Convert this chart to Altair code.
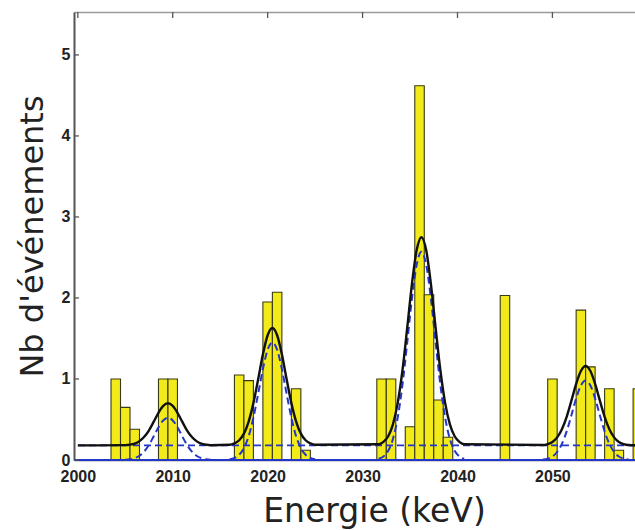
import altair as alt
import pandas as pd

# ---- histogram (1 keV bins, centres) ----
bin_centers = [2004, 2005, 2006, 2009, 2010, 2017, 2018, 2020, 2021, 2023, 2024,
               2032, 2033, 2035, 2036, 2037, 2038, 2039, 2045, 2050, 2053, 2054,
               2056, 2057, 2059]
counts = [1.0, 0.65, 0.38, 1.0, 1.0, 1.05, 0.98, 1.95, 2.07, 0.88, 0.12,
          1.0, 1.0, 0.41, 4.62, 2.04, 0.74, 0.28, 2.03, 1.0, 1.85, 1.15,
          0.88, 0.12, 0.88]
bin_width = 1.0

# ---- fit: flat background level ----
baseline = 0.18

# ---- fit: total (black) curve ----
fit_x = [2000.0,
         2005.0, 2005.5, 2006.0, 2006.5, 2007.0, 2007.5, 2008.0, 2008.5, 2009.0, 2009.5,
         2010.0, 2010.5, 2011.0, 2011.5, 2012.0, 2012.5, 2013.0, 2013.5, 2014.0,
         2016.0, 2016.5, 2017.0, 2017.5, 2018.0, 2018.5, 2019.0, 2019.5, 2020.0, 2020.5,
         2021.0, 2021.5, 2022.0, 2022.5, 2023.0, 2023.5, 2024.0, 2024.5, 2025.0,
         2031.7, 2032.2, 2032.7, 2033.2, 2033.7, 2034.2, 2034.7, 2035.2, 2035.7, 2036.2,
         2036.7, 2037.2, 2037.7, 2038.2, 2038.7, 2039.2, 2039.7, 2040.2, 2040.7,
         2049.0, 2049.5, 2050.0, 2050.5, 2051.0, 2051.5, 2052.0, 2052.5, 2053.0, 2053.5,
         2054.0, 2054.5, 2055.0, 2055.5, 2056.0, 2056.5, 2057.0, 2057.5, 2058.0,
         2060.0]
fit_y = [0.18,
         0.183, 0.189, 0.203, 0.233, 0.286, 0.367, 0.473, 0.583, 0.668, 0.70,
         0.668, 0.583, 0.473, 0.367, 0.286, 0.233, 0.203, 0.189, 0.183,
         0.188, 0.205, 0.244, 0.326, 0.474, 0.702, 0.996, 1.304, 1.540, 1.63,
         1.540, 1.304, 0.996, 0.702, 0.474, 0.326, 0.244, 0.205, 0.188,
         0.195, 0.224, 0.293, 0.440, 0.702, 1.105, 1.627, 2.172, 2.591, 2.75,
         2.591, 2.172, 1.627, 1.105, 0.702, 0.440, 0.293, 0.224, 0.195,
         0.186, 0.197, 0.223, 0.279, 0.379, 0.533, 0.732, 0.940, 1.099, 1.16,
         1.099, 0.940, 0.732, 0.533, 0.379, 0.279, 0.223, 0.197, 0.186,
         0.18]

# ---- fit: signal-only components (blue dashed) ----
peakA_x = [2005.0, 2005.5, 2006.0, 2006.5, 2007.0, 2007.5, 2008.0, 2008.5, 2009.0, 2009.5,
           2010.0, 2010.5, 2011.0, 2011.5, 2012.0, 2012.5, 2013.0, 2013.5, 2014.0]
peakA_y = [0.003, 0.009, 0.023, 0.053, 0.106, 0.187, 0.293, 0.403, 0.488, 0.52,
           0.488, 0.403, 0.293, 0.187, 0.106, 0.053, 0.023, 0.009, 0.003]
peakB_x = [2016.0, 2016.5, 2017.0, 2017.5, 2018.0, 2018.5, 2019.0, 2019.5, 2020.0, 2020.5,
           2021.0, 2021.5, 2022.0, 2022.5, 2023.0, 2023.5, 2024.0, 2024.5, 2025.0]
peakB_y = [0.008, 0.025, 0.064, 0.146, 0.294, 0.522, 0.816, 1.124, 1.360, 1.45,
           1.360, 1.124, 0.816, 0.522, 0.294, 0.146, 0.064, 0.025, 0.008]
peakC_x = [2031.7, 2032.2, 2032.7, 2033.2, 2033.7, 2034.2, 2034.7, 2035.2, 2035.7, 2036.2,
           2036.7, 2037.2, 2037.7, 2038.2, 2038.7, 2039.2, 2039.7, 2040.2, 2040.7]
peakC_y = [0.015, 0.044, 0.113, 0.260, 0.522, 0.925, 1.447, 1.992, 2.411, 2.57,
           2.411, 1.992, 1.447, 0.925, 0.522, 0.260, 0.113, 0.044, 0.015]
peakD_x = [2049.0, 2049.5, 2050.0, 2050.5, 2051.0, 2051.5, 2052.0, 2052.5, 2053.0, 2053.5,
           2054.0, 2054.5, 2055.0, 2055.5, 2056.0, 2056.5, 2057.0, 2057.5, 2058.0]
peakD_y = [0.006, 0.017, 0.043, 0.099, 0.199, 0.353, 0.552, 0.760, 0.919, 0.98,
           0.919, 0.760, 0.552, 0.353, 0.199, 0.099, 0.043, 0.017, 0.006]

x_ticks = [2000, 2010, 2020, 2030, 2040, 2050]
top_ticks = [2000, 2010, 2020, 2030, 2040, 2050]
y_ticks = [0, 1, 2, 3, 4, 5]
x_domain = [1999.6, 2058.7]
y_domain = [0, 5.53]

# ---- tables ----
bars = pd.DataFrame({
    "lo": [c - bin_width / 2 for c in bin_centers],
    "hi": [c + bin_width / 2 for c in bin_centers],
    "n": counts,
    "base": [0.0] * len(counts),
})
fit = pd.DataFrame({"x": fit_x, "y": fit_y})
comp_rows = []
for name, xs_, ys_ in [("A", peakA_x, peakA_y), ("B", peakB_x, peakB_y),
                       ("C", peakC_x, peakC_y), ("D", peakD_x, peakD_y)]:
    for xv, yv in zip(xs_, ys_):
        comp_rows.append({"peak": name, "x": xv, "y": yv})
comp = pd.DataFrame(comp_rows)
zero_df = pd.DataFrame({"y": [0.0]})
bkg_df = pd.DataFrame({"y": [baseline]})
xt = pd.DataFrame({"t": top_ticks})
yt = pd.DataFrame({"t": y_ticks})

xs = alt.Scale(domain=x_domain, nice=False, zero=False)
ys = alt.Scale(domain=y_domain, nice=False, zero=False)

TXT = "#222222"
BLUE = "#2336c8"

x_axis = alt.Axis(values=x_ticks, format="d", grid=False,
                  labelFont="Liberation Sans", labelFontWeight="bold",
                  labelFontSize=16, labelColor=TXT, labelPadding=8,
                  labelFlush=False,
                  ticks=False, tickSize=0, domainColor="#555555", domainWidth=1.5,
                  title="Energie (keV)", titleFont="DejaVu Sans", titleFontSize=33,
                  titleFontWeight="normal", titleColor=TXT,
                  titleX=300, titleY=61, titleAlign="center",
                  titleBaseline="alphabetic")
y_axis = alt.Axis(values=y_ticks, format="d", grid=False,
                  labelFont="Liberation Sans", labelFontWeight="bold",
                  labelFontSize=16, labelColor=TXT, labelPadding=4,
                  ticks=False, tickSize=0, domainColor="#555555", domainWidth=2,
                  title="Nb d'événements", titleFont="DejaVu Sans", titleFontSize=32,
                  titleFontWeight="normal", titleColor=TXT, titleAngle=270,
                  titleX=-32, titleY=224, titleAlign="center",
                  titleBaseline="alphabetic")

bar_layer = alt.Chart(bars).mark_rect(
    fill="#F2EA1A", stroke="#3a3a12", strokeWidth=1.1, clip=True
).encode(
    x=alt.X("lo:Q", scale=xs, axis=x_axis),
    x2="hi:Q",
    y=alt.Y("n:Q", scale=ys, axis=y_axis),
    y2="base:Q",
)

zero_layer = alt.Chart(zero_df).mark_rule(
    color=BLUE, strokeWidth=1.8
).encode(y=alt.Y("y:Q", scale=ys, axis=None))

bkg_layer = alt.Chart(bkg_df).mark_rule(
    color=BLUE, strokeWidth=1.8, strokeDash=[7, 4]
).encode(y=alt.Y("y:Q", scale=ys, axis=None))

comp_layer = alt.Chart(comp).mark_line(
    color=BLUE, strokeWidth=2.0, strokeDash=[7, 4], interpolate="monotone", clip=True
).encode(
    x=alt.X("x:Q", scale=xs, axis=None),
    y=alt.Y("y:Q", scale=ys, axis=None),
    detail="peak:N",
)

fit_layer = alt.Chart(fit).mark_line(
    color="#111111", strokeWidth=2.4, interpolate="monotone", clip=True
).encode(
    x=alt.X("x:Q", scale=xs, axis=None),
    y=alt.Y("y:Q", scale=ys, axis=None),
)

top_tick_layer = alt.Chart(xt).mark_rule(color="#555555", strokeWidth=1.3).encode(
    x=alt.X("t:Q", scale=xs,
            axis=alt.Axis(orient="top", labels=False, ticks=False, grid=False,
                          domainColor="#9a9a9a", domainWidth=1.5, title=None)),
    y=alt.value(0),
    y2=alt.value(6),
)

left_tick_layer = alt.Chart(yt).mark_rule(color="#555555", strokeWidth=1.3).encode(
    y=alt.Y("t:Q", scale=ys, axis=None),
    x=alt.value(0),
    x2=alt.value(5),
)

chart = alt.layer(
    bar_layer, bkg_layer, comp_layer, fit_layer, zero_layer,
    top_tick_layer, left_tick_layer
).resolve_axis(x="independent", y="independent").properties(
    width=561, height=448,
    autosize=alt.AutoSizeParams(type="none"),
    padding={"left": 74, "top": 12, "right": 0, "bottom": 70},
    background="white",
).configure_view(stroke=None)

chart.save("out.html", embed_options={"renderer": "svg", "actions": False})
